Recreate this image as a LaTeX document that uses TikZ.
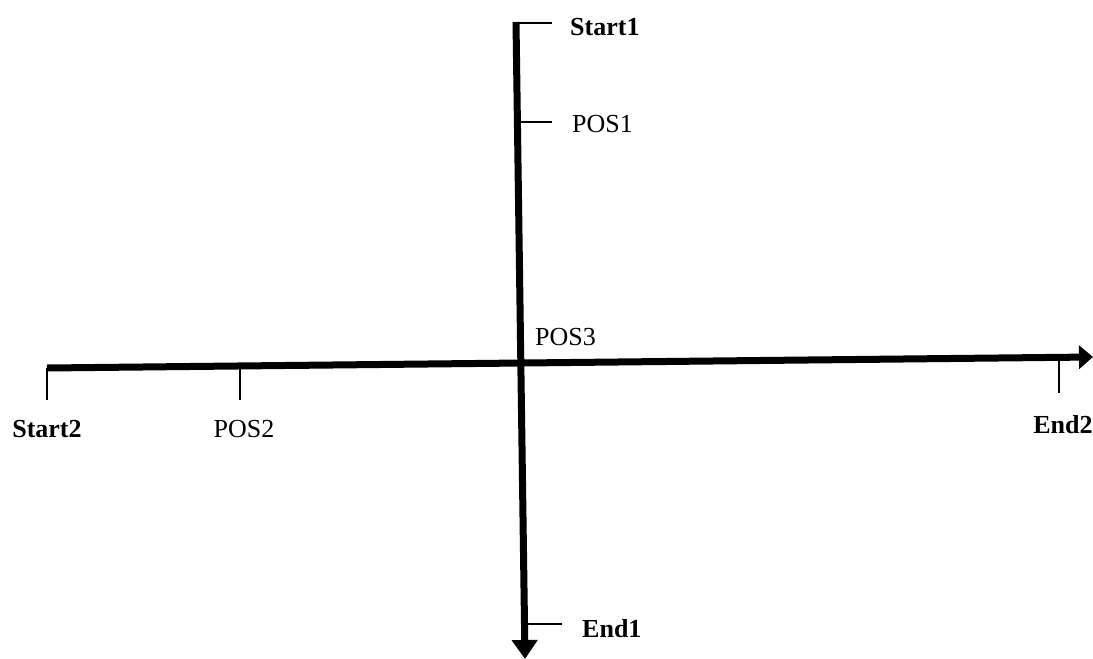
\documentclass[tikz,border=0pt]{standalone}
\usepackage{fontspec}
\setmainfont{Liberation Serif}
\usetikzlibrary{arrows.meta}
\tikzstyle{axis} = [line width=7pt]
\tikzstyle{tick} = [line width=2pt]
\tikzstyle{pos_label} = [font=\fontsize{26}{30}\selectfont, inner sep=0pt]
\tikzstyle{end_label} = [font=\fontsize{26}{30}\selectfont\bfseries, inner sep=0pt]

\begin{document}
\begin{tikzpicture}[x=1pt, y=-1pt]
    \useasboundingbox (0,0) rectangle (1093,659);

    % the two axes
    \coordinate (v_start) at (516,22);
    \coordinate (v_end) at (525,659);
    \coordinate (h_start) at (47,368);
    \coordinate (h_end) at (1093,357);
    \draw [axis, -{Triangle[length=19pt,width=25pt]}] (v_start) -- (v_end);
    \draw [axis, -{Triangle[length=14pt,width=23pt]}] (h_start) -- (h_end);

    % marks on the vertical axis
    \coordinate (start1_foot) at (516,23);
    \coordinate (start1_tip) at (552,23);
    \coordinate (pos1_foot) at (517.4,122);
    \coordinate (pos1_tip) at (552,122);
    \coordinate (end1_foot) at (524.5,624);
    \coordinate (end1_tip) at (562,624);
    \draw [tick] (start1_foot) -- (start1_tip);
    \draw [tick] (pos1_foot) -- (pos1_tip);
    \draw [tick] (end1_foot) -- (end1_tip);

    % marks on the horizontal axis
    \coordinate (start2_foot) at (47,368);
    \coordinate (start2_tip) at (47,400);
    \coordinate (pos2_foot) at (240,366);
    \coordinate (pos2_tip) at (240,400);
    \coordinate (end2_foot) at (1059,357.4);
    \coordinate (end2_tip) at (1059,393);
    \draw [tick] (start2_foot) -- (start2_tip);
    \draw [tick] (pos2_foot) -- (pos2_tip);
    \draw [tick] (end2_foot) -- (end2_tip);

    % labels
    \node (start1) [end_label, anchor=base west] at (570,35) {Start1};
    \node (pos1) [pos_label, anchor=base west] at (572,132) {POS1};
    \node (end1) [end_label, anchor=base west] at (582,637) {End1};
    \node (pos3) [pos_label, anchor=base west] at (535,345) {POS3};
    \node (start2) [end_label, anchor=base] at (47,437) {Start2};
    \node (pos2) [pos_label, anchor=base] at (244,437) {POS2};
    \node (end2) [end_label, anchor=base] at (1063,433) {End2};

\end{tikzpicture}
\end{document}
